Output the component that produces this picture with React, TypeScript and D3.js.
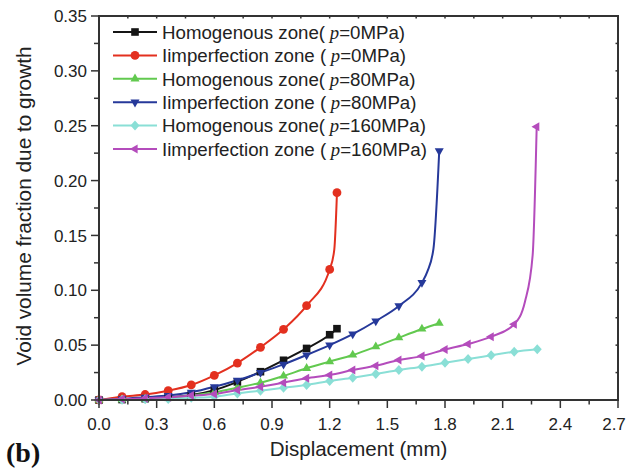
import React from "react";
import * as d3 from "d3";

// ---- data ----
const xTicks = [0, 0.3, 0.6, 0.9, 1.2, 1.5, 1.8, 2.1, 2.4, 2.7];
const yTicks = [0, 0.05, 0.1, 0.15, 0.2, 0.25, 0.3, 0.35];

const homo0X = [0, 0.12, 0.24, 0.36, 0.48, 0.6, 0.72, 0.84, 0.96, 1.08, 1.2, 1.238];
const homo0Y = [0, 0.0004, 0.0012, 0.0025, 0.0045, 0.009, 0.0165, 0.0258, 0.0362, 0.047, 0.0595, 0.065];
const homo0Skip: number[] = [];

const imp0X = [0, 0.12, 0.24, 0.36, 0.48, 0.6, 0.72, 0.84, 0.96, 1.08, 1.2, 1.224, 1.238];
const imp0Y = [0, 0.003, 0.005, 0.0085, 0.0137, 0.0225, 0.0337, 0.048, 0.0644, 0.086, 0.119, 0.137, 0.189];
const imp0Skip = [11];

const homo80X = [0, 0.12, 0.24, 0.36, 0.48, 0.6, 0.72, 0.84, 0.96, 1.08, 1.2, 1.32, 1.44, 1.56, 1.68, 1.77];
const homo80Y = [0, 0.0003, 0.001, 0.002, 0.004, 0.007, 0.0112, 0.0158, 0.0219, 0.0289, 0.035, 0.041, 0.0486, 0.0568, 0.0647, 0.07];
const homo80Skip: number[] = [];

const imp80X = [0, 0.12, 0.24, 0.36, 0.48, 0.6, 0.72, 0.84, 0.96, 1.08, 1.2, 1.32, 1.44, 1.56, 1.68, 1.708, 1.74, 1.77];
const imp80Y = [0, 0.001, 0.0025, 0.004, 0.007, 0.012, 0.018, 0.025, 0.0325, 0.041, 0.05, 0.06, 0.072, 0.0857, 0.107, 0.117, 0.138, 0.227];
const imp80Skip = [15, 16];

const homo160X = [0, 0.12, 0.24, 0.36, 0.48, 0.6, 0.72, 0.84, 0.96, 1.08, 1.2, 1.32, 1.44, 1.56, 1.68, 1.8, 1.92, 2.04, 2.16, 2.28];
const homo160Y = [0, 0.0003, 0.0006, 0.001, 0.002, 0.003, 0.006, 0.0085, 0.0112, 0.0137, 0.0173, 0.0203, 0.0237, 0.0273, 0.0304, 0.034, 0.0374, 0.0407, 0.044, 0.0462];
const homo160Skip: number[] = [];

const imp160X = [0, 0.12, 0.24, 0.36, 0.48, 0.6, 0.72, 0.84, 0.96, 1.08, 1.2, 1.32, 1.44, 1.56, 1.68, 1.8, 1.92, 2.04, 2.16, 2.216, 2.256, 2.277];
const imp160Y = [0, 0.001, 0.0015, 0.0025, 0.004, 0.0055, 0.0091, 0.0121, 0.0158, 0.0198, 0.0228, 0.0273, 0.0313, 0.0365, 0.04, 0.046, 0.051, 0.0577, 0.069, 0.0896, 0.132, 0.249];
const imp160Skip = [19, 20];

const seriesNames = ["Homogenous zone(", "Iimperfection zone (", "Homogenous zone(", "Iimperfection zone (", "Homogenous zone(", "Iimperfection zone ("];
const seriesP = ["=0MPa)", "=0MPa)", "=80MPa)", "=80MPa)", "=160MPa)", "=160MPa)"];
const seriesColors = ["#151515", "#e3301f", "#62c94f", "#26399a", "#8adfd6", "#b44cbc"];
const seriesShapes = ["square", "circle", "triUp", "triDown", "diamond", "triLeft"];

const seriesX = [homo0X, imp0X, homo80X, imp80X, homo160X, imp160X];
const seriesY = [homo0Y, imp0Y, homo80Y, imp80Y, homo160Y, imp160Y];
const seriesSkip = [homo0Skip, imp0Skip, homo80Skip, imp80Skip, homo160Skip, imp160Skip];

// ---- layout ----
const W = 628, H = 469;
const L = 99, R = 618, T = 16, B = 400;
const SANS = "'Liberation Sans', Arial, Helvetica, sans-serif";
const SERIF = "'Liberation Serif', 'Times New Roman', serif";
const AXC = "#333";

function Marker({ shape, x, y, color }: { shape: string; x: number; y: number; color: string }) {
  const s = 4.5;
  if (shape === "square") return <rect x={x - 3.8} y={y - 3.8} width={7.6} height={7.6} fill={color} />;
  if (shape === "circle") return <circle cx={x} cy={y} r={4.4} fill={color} />;
  const tri = (rot: number) => {
    const pts = [0, 1, 2].map((i) => {
      const a = ((rot + i * 120) * Math.PI) / 180;
      return `${x + 5.2 * Math.cos(a)},${y + 5.2 * Math.sin(a)}`;
    });
    return <polygon points={pts.join(" ")} fill={color} />;
  };
  if (shape === "triUp") return tri(-90);
  if (shape === "triDown") return tri(90);
  if (shape === "triLeft") return tri(180);
  // diamond
  return <polygon points={`${x},${y - s - 0.5} ${x + s},${y} ${x},${y + s + 0.5} ${x - s},${y}`} fill={color} />;
}

export default function App() {
  const x = d3.scaleLinear().domain([0, 2.7]).range([L, R]);
  const y = d3.scaleLinear().domain([0, 0.35]).range([B, T]);
  const line = d3
    .line<[number, number]>()
    .x((d) => x(d[0]))
    .y((d) => y(d[1]))
    .curve(d3.curveMonotoneX);

  const xMinor = d3.range(0, 2.7001, 0.15);
  const yMinor = d3.range(0, 0.35001, 0.025);

  const legendY0 = 32;
  const legendDy = 23.4;

  return (
    <svg width={W} height={H} style={{ position: "absolute", left: 0, top: 0, background: "#fff" }}>
      {/* series lines */}
      {seriesX.map((xs, si) => {
        const pts = xs.map((v, i) => [v, seriesY[si][i]] as [number, number]);
        return (
          <path key={"l" + si} d={line(pts) || ""} fill="none" stroke={seriesColors[si]} strokeWidth={2} />
        );
      })}
      {/* markers */}
      {seriesX.map((xs, si) => (
        <g key={"m" + si}>
          {xs.map((v, i) =>
            seriesSkip[si].includes(i) ? null : (
              <Marker key={i} shape={seriesShapes[si]} x={x(v)} y={y(seriesY[si][i])} color={seriesColors[si]} />
            )
          )}
        </g>
      ))}

      {/* frame */}
      <rect x={L} y={T} width={R - L} height={B - T} fill="none" stroke={AXC} strokeWidth={2} />

      {/* bottom ticks */}
      {xMinor.map((v, i) => {
        const major = i % 2 === 0;
        return (
          <g key={"xt" + i}>
            <line x1={x(v)} x2={x(v)} y1={B} y2={B + (major ? 8 : 4.5)} stroke={AXC} strokeWidth={1.5} />
            <line x1={x(v)} x2={x(v)} y1={T} y2={T + 2.5} stroke={AXC} strokeWidth={1.5} />
          </g>
        );
      })}
      {xTicks.map((v, i) => (
        <text
          key={"xl" + i}
          x={Math.min(x(v), W - 14)}
          y={430}
          textAnchor="middle"
          fontFamily={SANS}
          fontSize={17}
          fill="#222"
        >
          {d3.format(".1f")(v)}
        </text>
      ))}

      {/* left ticks */}
      {yMinor.map((v, i) => {
        const major = i % 2 === 0;
        return (
          <g key={"yt" + i}>
            <line x1={L} x2={L - (major ? 8 : 5)} y1={y(v)} y2={y(v)} stroke={AXC} strokeWidth={1.5} />
            <line x1={R} x2={R - 2.5} y1={y(v)} y2={y(v)} stroke={AXC} strokeWidth={1.5} />
          </g>
        );
      })}
      {yTicks.map((v, i) => (
        <text key={"yl" + i} x={87} y={y(v)} dy="0.36em" textAnchor="end" fontFamily={SANS} fontSize={17} fill="#222">
          {d3.format(".2f")(v)}
        </text>
      ))}

      {/* axis titles */}
      <text x={(L + R) / 2} y={456} textAnchor="middle" fontFamily={SANS} fontSize={20.5} fill="#222">
        Displacement (mm)
      </text>
      <text
        transform={`translate(31,${(T + B) / 2 - 2}) rotate(-90)`}
        textAnchor="middle"
        fontFamily={SANS}
        fontSize={20.8}
        fill="#222"
      >
        Void volume fraction due to growth
      </text>
      <text x={6} y={462} fontFamily={SERIF} fontWeight="bold" fontSize={28} fill="#111">
        (b)
      </text>

      {/* legend */}
      {seriesNames.map((name, i) => {
        const ly = legendY0 + i * legendDy;
        return (
          <g key={"lg" + i}>
            <line x1={113} x2={157} y1={ly} y2={ly} stroke={seriesColors[i]} strokeWidth={2} />
            <Marker shape={seriesShapes[i]} x={135} y={ly} color={seriesColors[i]} />
            <text x={162} y={ly} dy="0.36em" fontFamily={SANS} fontSize={18.7} fill="#222">
              {name}
              <tspan fontFamily={SERIF} fontStyle="italic">
                {" p"}
              </tspan>
              {seriesP[i]}
            </text>
          </g>
        );
      })}
    </svg>
  );
}
